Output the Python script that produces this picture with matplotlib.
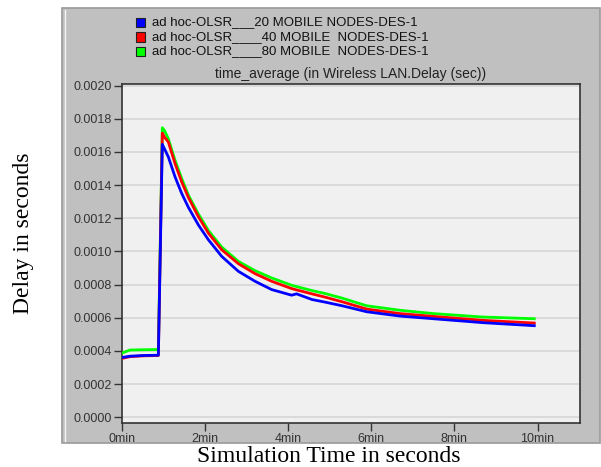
import matplotlib
matplotlib.use("Agg")
import matplotlib.pyplot as plt
from matplotlib.patches import Rectangle
from matplotlib.lines import Line2D

# ---- data (minutes, seconds) ----
t = [0, 0.19, 0.5, 0.875, 0.97, 1.02, 1.115, 1.276, 1.436, 1.597, 1.837, 2.08, 2.40,
     2.80, 3.20, 3.60, 4.08, 4.20, 4.57, 4.89, 5.30, 5.89, 6.69, 7.49, 8.70, 9.92]
blue_20 = [0.000360, 0.000368, 0.000372, 0.000374, 0.001646, 0.00162, 0.00157, 0.00145,
           0.00135, 0.001266, 0.00116, 0.00107, 0.00097, 0.00088, 0.00082, 0.00077,
           0.000736, 0.000744, 0.000710, 0.000694, 0.000672, 0.000636, 0.000610,
           0.000594, 0.000570, 0.000552]
red_40 = [0.000355, 0.000365, 0.000370, 0.000372, 0.001714, 0.00169, 0.00166, 0.00153,
          0.00142, 0.001326, 0.00121, 0.00111, 0.00101, 0.000926, 0.000866, 0.00082,
          0.000776, 0.000768, 0.000744, 0.000724, 0.000696, 0.000652, 0.000625,
          0.000608, 0.000584, 0.000568]
green_80 = [0.000387, 0.000405, 0.000407, 0.000408, 0.001746, 0.00173, 0.00168, 0.00155,
            0.00144, 0.00134, 0.001226, 0.001126, 0.001026, 0.00094, 0.000884, 0.00084,
            0.000796, 0.000788, 0.000764, 0.000746, 0.000718, 0.000672, 0.000645,
            0.000625, 0.000604, 0.000594]
labels = ["ad hoc-OLSR___20 MOBILE NODES-DES-1",
          "ad hoc-OLSR____40 MOBILE  NODES-DES-1",
          "ad hoc-OLSR____80 MOBILE  NODES-DES-1"]
colors = ["#0000ff", "#ff0000", "#00ff00"]
yticks = [0.0000, 0.0002, 0.0004, 0.0006, 0.0008, 0.0010, 0.0012, 0.0014, 0.0016, 0.0018, 0.0020]
xticks = [0, 2, 4, 6, 8, 10]
xticklabels = ["0min", "2min", "4min", "6min", "8min", "10min"]

W, H = 601, 467
fig = plt.figure(figsize=(W / 100, H / 100), dpi=100)
fig.patch.set_facecolor("white")

# grey outer panel
panel = Rectangle((62 / W, 1 - 443 / H), (600 - 62) / W, (443 - 8) / H,
                  transform=fig.transFigure, facecolor="#c0c0c0",
                  edgecolor="#9a9a9a", linewidth=1.2, zorder=-2)
fig.add_artist(panel)
fig.add_artist(Line2D([64.5 / W, 64.5 / W], [1 - 441 / H, 1 - 10 / H],
                      transform=fig.transFigure, color="#f4f4f4", lw=1.0, zorder=-1))

left, right, top, bottom = 122, 580, 84, 423
ax = fig.add_axes([left / W, 1 - bottom / H, (right - left) / W, (bottom - top) / H])
ax.set_zorder(2)
ax.set_facecolor("#f0f0f0")

series = [blue_20, red_40, green_80]
for idx in [2, 1, 0]:
    ax.plot(t, series[idx], color=colors[idx], lw=2.0, zorder=3 + (2 - idx),
            solid_joinstyle="round")

ax.set_xlim(0, 11.02)
ax.set_ylim(-0.000035, 0.00201)
ax.set_yticks(yticks)
ax.set_yticklabels([f"{v:.4f}" for v in yticks])
ax.set_xticks(xticks)
ax.set_xticklabels(xticklabels)
ax.grid(axis="y", color="#d6d6d6", lw=1.2)
ax.set_axisbelow(True)
for s in ax.spines.values():
    s.set_color("#333333")
    s.set_linewidth(1.2)
ax.tick_params(axis="both", direction="out", length=6, width=1, color="#333333",
               labelsize=9, labelcolor="#333333", pad=1.5)
for lab in ax.get_xticklabels() + ax.get_yticklabels():
    lab.set_fontfamily("Liberation Sans")

# legend (OPNET style)
for i, (lab, c) in enumerate(zip(labels, colors)):
    y = 1 - (22.5 + 14.5 * i) / H
    fig.add_artist(Rectangle((136 / W, y - 4.5 / H), 9 / W, 9 / H,
                             transform=fig.transFigure, facecolor=c,
                             edgecolor="#202020", lw=0.8))
    fig.text(152 / W, y, lab, fontsize=9.5, family="Liberation Sans",
             color="#111111", va="center", ha="left")

fig.text((left + right) / 2 / W, 1 - 74 / H,
         "time_average (in Wireless LAN.Delay (sec))",
         fontsize=10, family="Liberation Sans", color="#222222",
         ha="center", va="center")

fig.text(24 / W, 1 - 233 / H, "Delay in seconds", rotation=90,
         fontsize=17, family="Liberation Serif", ha="center", va="center")
fig.text(329 / W, 1 - 457 / H, "Simulation Time in seconds",
         fontsize=17, family="Liberation Serif", ha="center", va="center")

fig.savefig("out.png", dpi=100)
